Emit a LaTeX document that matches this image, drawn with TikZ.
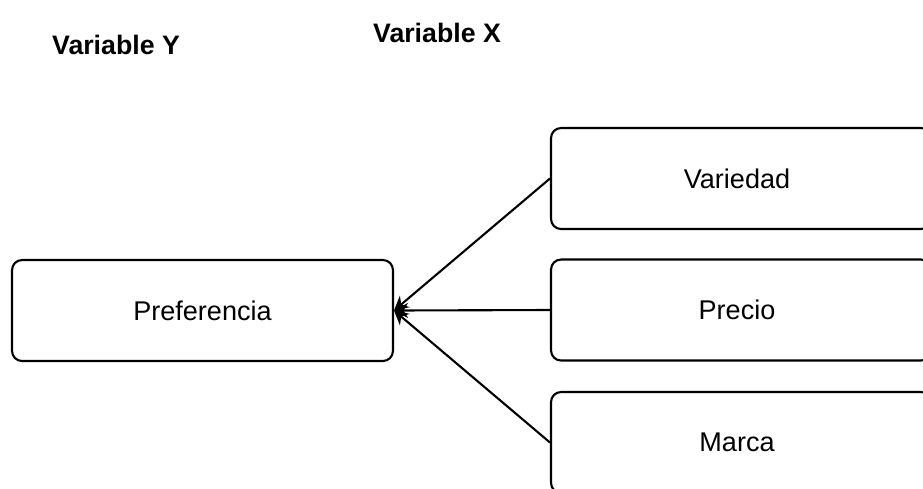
\documentclass[tikz,border=0pt]{standalone}
\usepackage{fontspec}
\setmainfont{Liberation Sans}
\usetikzlibrary{arrows.meta,positioning}
\tikzset{
	varbox/.style={draw, line width=1.2pt, rounded corners=0.2cm,
			minimum width=7.6cm, minimum height=2.02cm,
			font=\fontsize{15.4}{18}\selectfont},
	vartitle/.style={font=\bfseries\fontsize{15.2}{18}\selectfont},
	cause/.style={line width=1.2pt, -{Stealth[length=0.28cm, width=0.3cm]}}
}

\begin{document}
\begin{tikzpicture}[x=0.02cm,y=-0.02cm]
	\clip (0,0) rectangle (923,488);
	% Titles
	\node[vartitle] (ytitle) at (116,45) {Variable Y};
	\node[vartitle] (xtitle) at (437,33) {Variable X};
	% Dependent variable
	\node[varbox, minimum width=7.62cm] (pref) at (202.5,310.5) {Preferencia};
	% Independent variables (cut off on the right)
	\node[varbox] (variedad) at (741,178.5) {\hspace*{-0.16cm}Variedad};
	\node[varbox] (precio) at (741,310) {\hspace*{-0.16cm}Precio};
	\node[varbox] (marca) at (741,442.5) {\hspace*{-0.16cm}Marca};
	% Arrows
	\draw[cause] (variedad.west) -- (pref.east);
	\draw[cause] (precio.west) -- (pref.east);
	\draw[cause] (marca.west) -- (pref.east);
\end{tikzpicture}
\end{document}
